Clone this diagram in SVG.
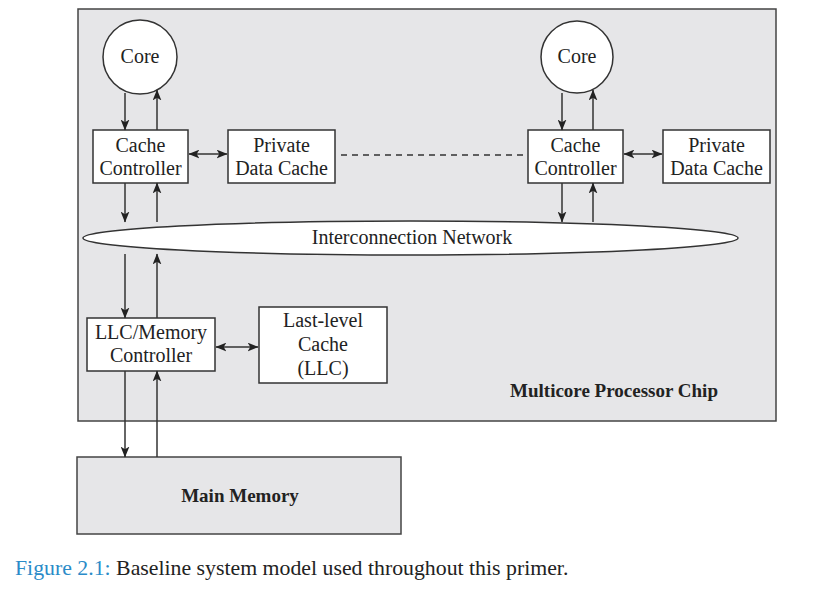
<svg xmlns="http://www.w3.org/2000/svg" width="834" height="590" viewBox="0 0 834 590">
<defs>
<marker id="ah" viewBox="0 0 10 8" refX="9.5" refY="4" markerWidth="11" markerHeight="9" markerUnits="userSpaceOnUse" orient="auto-start-reverse">
<path d="M0,0 L10,4 L0,8 L2.5,4 z" fill="#222"/>
</marker>
</defs>
<style>
.box{fill:#fff;stroke:#333;stroke-width:1.5}
.t{font-family:"Liberation Serif",serif;font-size:20px;fill:#222;text-anchor:middle}
.b{font-weight:bold;font-size:19px}
.ln{stroke:#333;stroke-width:1.5;fill:none}
.arr{stroke:#333;stroke-width:1.5;fill:none;marker-end:url(#ah)}
.bi{stroke:#333;stroke-width:1.5;fill:none;marker-end:url(#ah);marker-start:url(#ah)}
</style>
<rect width="834" height="590" fill="#fff"/>
<g id="chip">
<rect x="78" y="9" width="698" height="412" fill="#e6e6e8" stroke="#444" stroke-width="1.5"/>
<text class="t b" x="614" y="397">Multicore Processor Chip</text>
</g>
<g id="core1">
<circle cx="140" cy="57" r="37" class="box"/>
<text class="t" x="140" y="63">Core</text>
</g>
<g id="cc1">
<rect x="93" y="130" width="95" height="53" class="box"/>
<text class="t" x="140.5" y="152">Cache</text>
<text class="t" x="140.5" y="175">Controller</text>
</g>
<g id="pdc1">
<rect x="228" y="130" width="107" height="53" class="box"/>
<text class="t" x="281.5" y="152">Private</text>
<text class="t" x="281.5" y="175">Data Cache</text>
</g>
<g id="core2">
<circle cx="577" cy="57" r="36" class="box"/>
<text class="t" x="577" y="63">Core</text>
</g>
<g id="cc2">
<rect x="528" y="130" width="95" height="53" class="box"/>
<text class="t" x="575.5" y="152">Cache</text>
<text class="t" x="575.5" y="175">Controller</text>
</g>
<g id="pdc2">
<rect x="663" y="130" width="107" height="53" class="box"/>
<text class="t" x="716.5" y="152">Private</text>
<text class="t" x="716.5" y="175">Data Cache</text>
</g>
<g id="network">
<ellipse cx="410.5" cy="238" rx="327.5" ry="17" class="box"/>
<text class="t" x="412" y="244">Interconnection Network</text>
</g>
<g id="llcmc">
<rect x="87" y="318" width="128" height="53" class="box"/>
<text class="t" x="151" y="339">LLC/Memory</text>
<text class="t" x="151" y="362">Controller</text>
</g>
<g id="llc">
<rect x="259" y="307" width="128" height="76" class="box"/>
<text class="t" x="323" y="327">Last-level</text>
<text class="t" x="323" y="351">Cache</text>
<text class="t" x="323" y="375">(LLC)</text>
</g>
<g id="mem">
<rect x="77" y="457" width="324" height="77" fill="#e6e6e8" stroke="#444" stroke-width="1.5"/>
<text class="t b" x="240" y="502">Main Memory</text>
</g>
<g id="connectors">
<line class="arr" x1="125" y1="93" x2="125" y2="130"/>
<line class="arr" x1="157" y1="130" x2="157" y2="90"/>
<line class="arr" x1="562" y1="93" x2="562" y2="130"/>
<line class="arr" x1="593" y1="130" x2="593" y2="90"/>
<line class="bi" x1="189" y1="154" x2="227" y2="154"/>
<line class="bi" x1="624" y1="154" x2="662" y2="154"/>
<line x1="341" y1="155" x2="527" y2="155" stroke="#333" stroke-width="1.5" stroke-dasharray="6,5"/>
<line class="arr" x1="125" y1="183" x2="125" y2="222"/>
<line class="arr" x1="157" y1="222" x2="157" y2="183"/>
<line class="arr" x1="562" y1="183" x2="562" y2="222"/>
<line class="arr" x1="593" y1="222" x2="593" y2="183"/>
<line class="arr" x1="125" y1="254" x2="125" y2="318"/>
<line class="arr" x1="157" y1="318" x2="157" y2="254"/>
<line class="bi" x1="216" y1="347" x2="258" y2="347"/>
<line class="arr" x1="125" y1="371" x2="125" y2="457"/>
<line class="arr" x1="157" y1="457" x2="157" y2="371"/>
</g>
<g id="caption">
<text x="15" y="575" style="font-family:'Liberation Serif',serif;font-size:21.8px;fill:#222"><tspan fill="#2a8bc8">Figure 2.1:</tspan> Baseline system model used throughout this primer.</text>
</g>
</svg>
